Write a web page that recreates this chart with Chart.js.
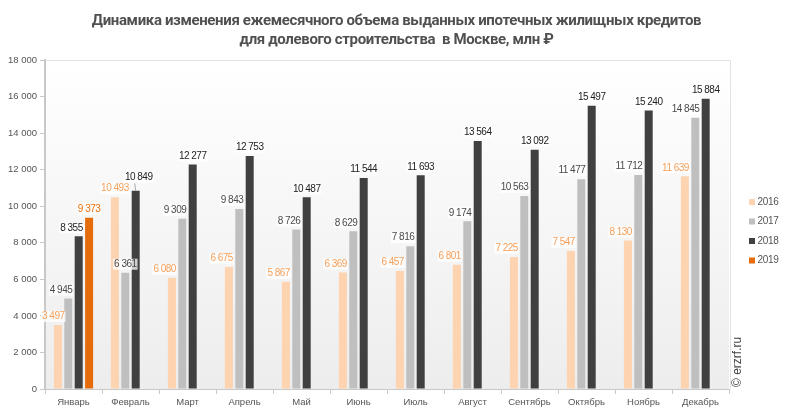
<!DOCTYPE html>
<html><head><meta charset="utf-8">
<script src="https://cdn.jsdelivr.net/npm/chart.js@4"></script>
<style>html,body{margin:0;padding:0;background:#fff}#wrap{width:793px;height:416px}</style>
</head><body><div id="wrap"><canvas id="c" width="793" height="416"></canvas></div>
<script>
const months = ['Январь','Февраль','Март','Апрель','Май','Июнь','Июль','Август','Сентябрь','Октябрь','Ноябрь','Декабрь'];
const seriesNames = ['2016','2017','2018','2019'];
const values2016 = [3497,10493,6080,6675,5867,6369,6457,6801,7225,7547,8130,11639];
const values2017 = [4945,6361,9309,9843,8726,8629,7816,9174,10563,11477,11712,14845];
const values2018 = [8355,10849,12277,12753,10487,11544,11693,13564,13092,15497,15240,15884];
const values2019 = [9373,null,null,null,null,null,null,null,null,null,null,null];
const yMin = 0, yMax = 18000, yStep = 2000;
const titleLines = ['Динамика изменения ежемесячного объема выданных ипотечных жилищных кредитов','для долевого строительства  в Москве, млн ₽'];
const watermark = '© erzrf.ru';

const barColors = ['#fdd3b0','#bfbfbf','#404040','#e46c0a'];
const labelColors = ['#f5a05a','#4a4a4a','#222222','#e8700a'];
const FONT = "'Liberation Sans', Arial, sans-serif";
const TITLE_FONT = "bold 15px Roboto, 'Liberation Sans', Arial, sans-serif";

function fmt(v){ return String(v).replace(/\B(?=(\d{3})+(?!\d))/g,' '); }
function hit(a,b){ return a.x1 < b.x2 && a.x2 > b.x1 && a.y1 < b.y2 && a.y2 > b.y1; }

const bgPlugin = {
  id:'bg',
  beforeDraw(chart){
    const {ctx, chartArea:a} = chart;
    ctx.save();
    ctx.fillStyle = '#fff';
    ctx.fillRect(0,0,chart.width,chart.height);
    const g = ctx.createLinearGradient(0,a.top,0,a.bottom);
    g.addColorStop(0,'#ffffff');
    g.addColorStop(1,'#ededed');
    ctx.fillStyle = g;
    ctx.fillRect(a.left,a.top,a.right-a.left,a.bottom-a.top);
    ctx.strokeStyle = '#e2e2e2';
    ctx.lineWidth = 1;
    ctx.beginPath();
    ctx.moveTo(a.left,a.top+0.5); ctx.lineTo(a.right+1.5,a.top+0.5); ctx.lineTo(a.right+1.5,a.bottom);
    ctx.stroke();
    // title
    ctx.font = TITLE_FONT;
    ctx.letterSpacing = '-0.35px';
    ctx.fillStyle = '#505050';
    ctx.textAlign = 'center';
    ctx.textBaseline = 'alphabetic';
    ctx.fillText(titleLines[0], chart.width/2, 25);
    ctx.fillText(titleLines[1], chart.width/2, 44);
    ctx.letterSpacing = '0px';
    ctx.restore();
  }
};

const labelPlugin = {
  id:'vlabels',
  afterDatasetsDraw(chart){
    const ctx = chart.ctx;
    const area = chart.chartArea;
    ctx.save();
    ctx.font = '10px ' + FONT;
    ctx.letterSpacing = '-0.5px';
    ctx.textAlign = 'center';
    ctx.textBaseline = 'middle';
    const n = chart.data.datasets.length;
    const bars = [];
    for (let di=0; di<n; di++){
      chart.getDatasetMeta(di).data.forEach((b,i)=>{
        const v = chart.data.datasets[di].data[i];
        if (v===null||v===undefined) return;
        bars.push({di,i,x1:b.x-b.width/2+0.5,x2:b.x+b.width/2-0.5,y1:b.y,y2:b.base});
      });
    }
    const placed = [];
    const H = 11;
    const nCat = chart.data.labels.length;
    for (let i=0;i<nCat;i++){
      for (let di=0; di<n; di++){
        const v = chart.data.datasets[di].data[i];
        if (v===null||v===undefined) continue;
        const bar = chart.getDatasetMeta(di).data[i];
        const t = fmt(v);
        const w = ctx.measureText(t).width;
        const cy = bar.y - 8.5;
        const mk = (dx,y)=>{
          let cx = bar.x + dx;
          if (cx - w/2 < area.left - 3) cx = area.left - 3 + w/2;
          return {cx, cy:y, x1:cx-w/2, x2:cx+w/2, y1:y-H/2, y2:y+H/2};
        };
        const others = bars.filter(b=>!(b.di===di&&b.i===i));
        const free = r => !others.some(b=>hit(r,b)) && !placed.some(p=>hit(r,p));
        let r = null, moved = false;
        for (const dx of [0, (bar.width - w)/2]){
          const c = mk(dx, cy);
          if (free(c)){ r = c; break; }
        }
        if (!r){
          let c = mk(0, cy);
          if (placed.some(p=>hit(c,p))){
            let y = cy;
            while (placed.some(p=>hit(mk(3,y),p)) && y > area.top) y -= 0.5;
            c = mk(3, y); moved = true;
          }
          r = c;
        }
        placed.push(r);
        if (moved){
          ctx.strokeStyle = '#aaaaaa';
          ctx.lineWidth = 1;
          ctx.beginPath();
          ctx.moveTo(r.cx - 4, r.y2);
          ctx.lineTo(bar.x, bar.y);
          ctx.stroke();
        }
        ctx.fillStyle = 'rgba(255,255,255,0.75)';
        ctx.fillRect(r.x1 - 1, r.y1, w + 2, H);
        ctx.fillStyle = labelColors[di];
        ctx.fillText(t, r.cx, r.cy);
      }
    }
    ctx.letterSpacing = '0px';
    ctx.restore();
  },
  afterDraw(chart){
    const ctx = chart.ctx;
    ctx.save();
    ctx.font = '10px ' + FONT;
    ctx.letterSpacing = '-0.3px';
    ctx.textBaseline = 'middle';
    ctx.textAlign = 'left';
    seriesNames.forEach((nm,i)=>{
      const y = 202 + i*19.5;
      ctx.fillStyle = barColors[i];
      ctx.fillRect(749, y-3, 6, 6);
      ctx.fillStyle = '#555';
      ctx.fillText(nm, 757.5, y);
    });
    ctx.letterSpacing = '0px';
    ctx.translate(741, 387);
    ctx.rotate(-Math.PI/2);
    ctx.font = '12px ' + FONT;
    ctx.fillStyle = '#444';
    ctx.textAlign = 'left';
    ctx.textBaseline = 'alphabetic';
    ctx.fillText(watermark, 0, 0);
    ctx.restore();
  }
};

const allSeries = [values2016, values2017, values2018, values2019];
new Chart(document.getElementById('c'), {
  type:'bar',
  data:{
    labels: months,
    datasets: allSeries.map((d,i)=>({
      label: seriesNames[i], data: d, backgroundColor: barColors[i],
      categoryPercentage: 0.73, barPercentage: 0.77, borderWidth: 0
    }))
  },
  options:{
    responsive:false, animation:false,
    layout:{padding:{left:0,right:64,top:60,bottom:0}},
    plugins:{ legend:{display:false}, tooltip:{enabled:false}, title:{display:false} },
    scales:{
      x:{
        grid:{display:true, drawOnChartArea:false, drawTicks:true, tickLength:5, color:'#c8c8c8', offset:true},
        border:{display:true, color:'#c8c8c8', width:1},
        ticks:{color:'#555', font:{family:FONT,size:9.5}, padding:3, maxRotation:0, autoSkip:false},
        afterFit(s){ s.height = 27; }
      },
      y:{
        min:yMin, max:yMax,
        grid:{display:true, drawOnChartArea:false, drawTicks:true, tickLength:5, color:'#c8c8c8'},
        border:{display:true, color:'#c8c8c8', width:2},
        ticks:{stepSize:yStep, color:'#555', font:{family:FONT,size:9.5}, padding:3, callback:v=>fmt(v)},
        afterFit(s){ s.width = 45; }
      }
    }
  },
  plugins:[bgPlugin, labelPlugin]
});
</script></body></html>
